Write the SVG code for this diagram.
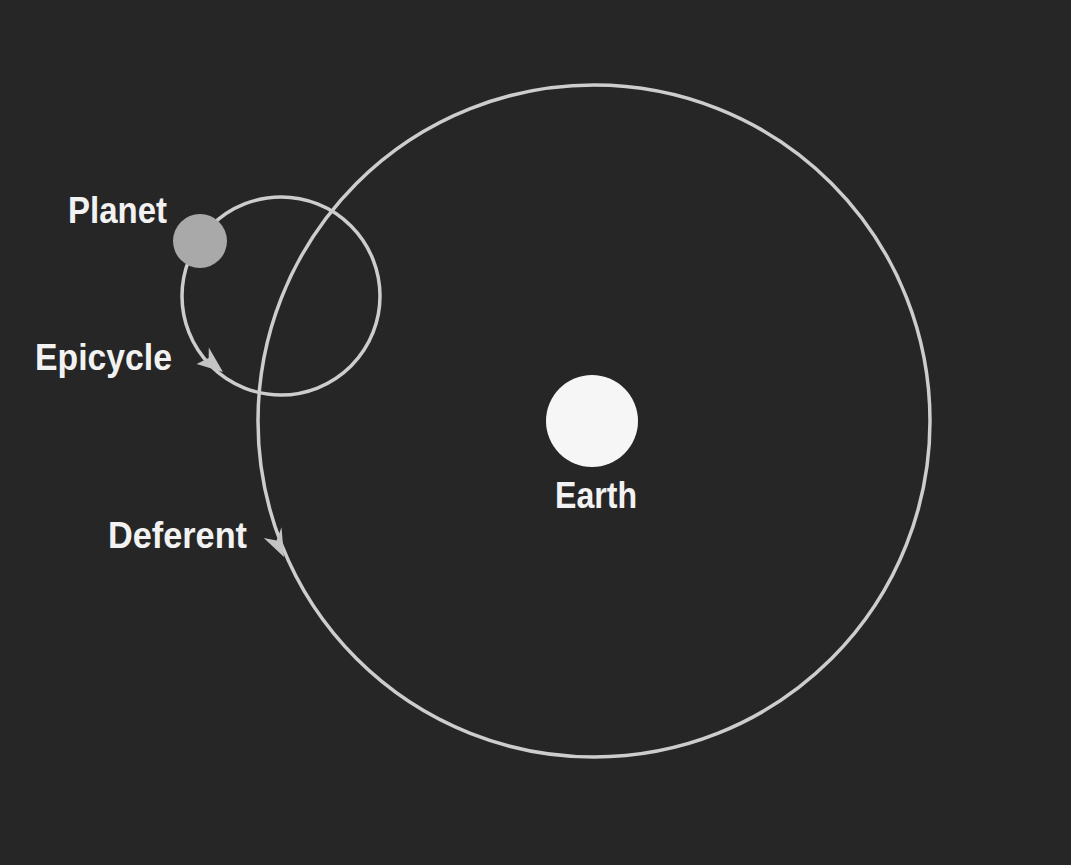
<svg xmlns="http://www.w3.org/2000/svg" width="1071" height="865" viewBox="0 0 1071 865">
<style>
.orbit{fill:none;stroke:#cdcdcd;stroke-width:3.5}
.head{fill:#c4c4c4}
.lbl{font-family:"Liberation Sans",Arial,sans-serif;font-weight:bold;font-size:36px;fill:#f2f2f2}
</style>
<rect width="1071" height="865" fill="#262626"/>
<g id="connectors">
<circle id="deferent-orbit" class="orbit" cx="594" cy="421" r="336"/>
<circle id="epicycle-orbit" class="orbit" cx="281" cy="296" r="99"/>
<polygon class="head" points="223,372 196.6,364 208.7,358 208.8,347.4"/>
<polygon class="head" points="284,557 263.8,537.9 276.6,540.4 281.5,527.3"/>
</g>
<g id="earth">
<circle cx="592" cy="421" r="46" fill="#f6f6f6"/>
<text class="lbl" x="555" y="508" textLength="82" lengthAdjust="spacingAndGlyphs">Earth</text>
</g>
<g id="planet">
<circle cx="200" cy="241" r="27" fill="#a9a9a9"/>
<text class="lbl" x="68" y="223" textLength="99" lengthAdjust="spacingAndGlyphs">Planet</text>
</g>
<g id="epicycle">
<text class="lbl" x="35" y="370" textLength="137" lengthAdjust="spacingAndGlyphs">Epicycle</text>
</g>
<g id="deferent">
<text class="lbl" x="108" y="548" textLength="139" lengthAdjust="spacingAndGlyphs">Deferent</text>
</g>
</svg>
